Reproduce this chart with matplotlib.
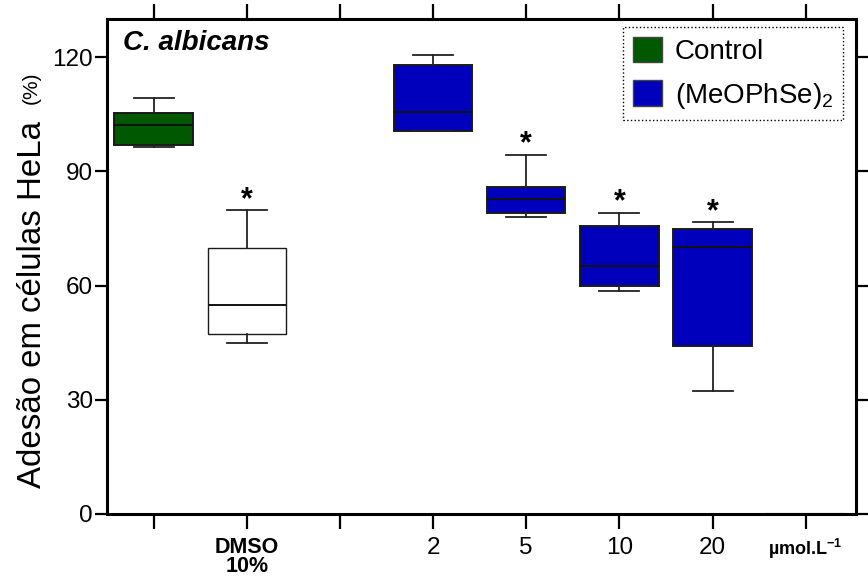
import matplotlib.pyplot as plt

plt.rcParams['font.family'] = ['Liberation Sans', 'DejaVu Sans']
plt.rcParams['mathtext.fontset'] = 'custom'
plt.rcParams['mathtext.rm'] = 'Liberation Sans'

# box statistics (% adhesion)
groups = ['Control', 'DMSO 10%', '2', '5', '10', '20']
positions = [1, 2, 4, 5, 6, 7]
whislo = [96.4, 44.8, 100.6, 78.0, 58.5, 32.4]
q1 = [96.8, 47.4, 100.6, 79.1, 60.0, 44.1]
med = [102.2, 54.8, 105.5, 82.6, 65.2, 70.2]
q3 = [105.4, 69.9, 118.0, 86.0, 75.7, 74.9]
whishi = [109.2, 79.8, 120.5, 94.3, 79.1, 76.6]
significant = [False, True, False, True, True, True]
face_colors = ['#005800', 'white', '#0000BC', '#0000BC', '#0000BC', '#0000BC']

tick_pos = [1, 2, 3, 4, 5, 6, 7, 8]
tick_labels = ['', 'DMSO\n10%', '', '2', '5', '10', '20', 'µmol.L$^{\\mathregular{-1}}$']
yticks = [0, 30, 60, 90, 120]

fig = plt.figure(figsize=(8.68, 5.76), dpi=100)
ax = fig.add_axes([107 / 868, 62 / 576, 749 / 868, 495 / 576])

stats = []
for i, g in enumerate(groups):
    stats.append({'label': g, 'whislo': whislo[i], 'q1': q1[i], 'med': med[i],
                  'q3': q3[i], 'whishi': whishi[i]})

bp = ax.bxp(stats, positions=positions, widths=0.84, capwidths=0.43,
            showfliers=False, patch_artist=True,
            boxprops=dict(linewidth=1.4, edgecolor='#1a1a1a'),
            medianprops=dict(color='#111111', linewidth=1.4),
            whiskerprops=dict(color='#222222', linewidth=1.3),
            capprops=dict(color='#222222', linewidth=1.3))
for patch, c in zip(bp['boxes'], face_colors):
    patch.set_facecolor(c)
bp['boxes'][1].set_linewidth(1.0)

# empty placeholder box at the unit position (drawn flat on zero)
empty = ax.bxp([{'whislo': 0, 'q1': 0, 'med': 0, 'q3': 0, 'whishi': 0}],
               positions=[8], widths=0.84, capwidths=0.43, showfliers=False,
               boxprops=dict(color='#b0b0b0', linewidth=1.5),
               medianprops=dict(color='#b0b0b0', linewidth=1.5),
               whiskerprops=dict(color='#b0b0b0'), capprops=dict(color='#b0b0b0'))

for p, top, sig in zip(positions, whishi, significant):
    if sig:
        ax.text(p, top + 0.6, '*', ha='center', va='baseline', fontsize=22,
                fontweight='bold')

ax.set_xlim(0.5, 8.54)
ax.set_ylim(0, 130)
ax.set_yticks(yticks)
ax.set_yticklabels([str(v) for v in yticks], fontsize=17.5)
ax.set_xticks(tick_pos)
ax.set_xticklabels(tick_labels, fontsize=17.5)
for i, lab in enumerate(ax.get_xticklabels()):
    if i == 1:
        lab.set_fontweight('bold')
        lab.set_fontsize(15.5)
        lab.set_linespacing(0.9)
    if i == 7:
        lab.set_fontweight('bold')
        lab.set_fontsize(13)

ax.tick_params(axis='both', direction='out', length=9, width=1.6, color='black',
               top=True, right=True)
ax.tick_params(axis='y', pad=1)
ax.tick_params(axis='x', pad=5.5, length=11)
for s in ax.spines.values():
    s.set_linewidth(2.2)

ax.text(0.022, 0.978, 'C. albicans', transform=ax.transAxes, ha='left', va='top',
        fontsize=20, fontweight='bold', fontstyle='italic')

h1 = plt.Rectangle((0, 0), 1, 1, facecolor='#005800', edgecolor='#444444', lw=1)
h2 = plt.Rectangle((0, 0), 1, 1, facecolor='#0000BC', edgecolor='#444444', lw=1)
leg = ax.legend([h1, h2], ['Control', '(MeOPhSe)$_\\mathregular{2}$'],
                loc='upper right', bbox_to_anchor=(843 / 868, 1 - 27 / 576),
                bbox_transform=fig.transFigure, borderaxespad=0, fontsize=20,
                handlelength=1.05, handleheight=1.05, handletextpad=0.45,
                labelspacing=0.55, borderpad=0.35, fancybox=False, framealpha=1)
leg.get_frame().set_edgecolor('black')
leg.get_frame().set_linestyle(':')
leg.get_frame().set_linewidth(1.0)

fig.text(33 / 868, 1 - 488 / 576, 'Adesão em células HeLa', rotation=90,
         ha='center', va='bottom', fontsize=23.8)
fig.text(31 / 868, 1 - 72 / 576, '(%)', rotation=90, ha='center', va='top',
         fontsize=15)

fig.savefig('out.png', dpi=100)
